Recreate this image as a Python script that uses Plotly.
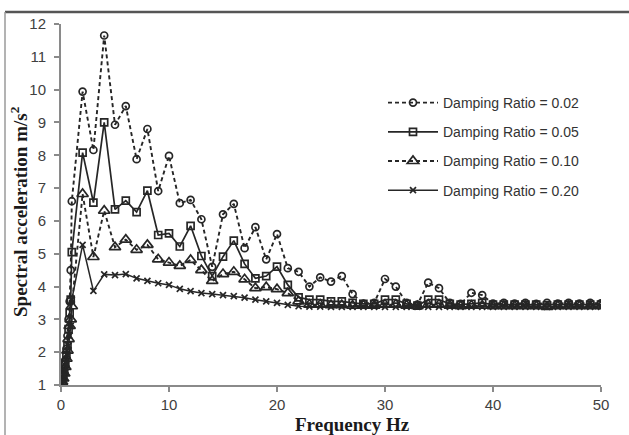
import plotly.graph_objects as go

freq = [0.1, 0.2, 0.3, 0.4, 0.5, 0.6, 0.7, 0.8, 0.9] + list(range(1, 51))

sa_002 = [1.15, 1.3, 1.5, 1.75, 2.1, 2.5, 3.0, 3.55, 4.5,
          6.6, 9.94, 8.16, 11.65, 8.93, 9.5, 7.88, 8.8, 6.91, 7.98,
          6.54, 6.64, 6.05, 4.6, 6.2, 6.52, 5.17, 5.81, 4.83, 5.6,
          4.56, 4.45, 4.0, 4.28, 4.15, 4.32, 3.77, 3.48, 3.5, 4.23,
          4.0, 3.5, 3.45, 4.12, 3.95, 3.5, 3.47, 3.81, 3.74, 3.48,
          3.5, 3.48, 3.5, 3.47, 3.5, 3.48, 3.5, 3.48, 3.5, 3.49]

sa_005 = [1.1, 1.25, 1.4, 1.65, 1.9, 2.2, 2.7, 3.2, 3.6,
          5.05, 8.08, 6.56, 9.0, 6.35, 6.62, 6.27, 6.92, 5.57, 5.62,
          5.22, 5.85, 4.93, 4.32, 4.91, 5.4, 4.69, 4.25, 4.32, 4.61,
          4.05, 3.67, 3.6, 3.6, 3.55, 3.55, 3.5, 3.47, 3.47, 3.6,
          3.6, 3.47, 3.42, 3.6, 3.6, 3.47, 3.45, 3.47, 3.5, 3.45,
          3.45, 3.45, 3.45, 3.45, 3.43, 3.45, 3.45, 3.45, 3.45, 3.45]

sa_010 = [1.1, 1.2, 1.35, 1.55, 1.8, 2.05, 2.4, 2.8, 3.0,
          3.4, 6.82, 4.9, 6.31, 5.2, 5.43, 5.12, 5.27, 4.83, 4.73,
          4.63, 4.81, 4.5, 4.17, 4.38, 4.45, 4.22, 3.95, 3.98, 3.92,
          3.8, 3.55, 3.45, 3.45, 3.43, 3.43, 3.42, 3.42, 3.42, 3.45,
          3.45, 3.42, 3.4, 3.45, 3.45, 3.42, 3.4, 3.42, 3.42, 3.4,
          3.4, 3.4, 3.4, 3.4, 3.38, 3.4, 3.4, 3.4, 3.4, 3.4]

sa_020 = [1.05, 1.15, 1.3, 1.45, 1.65, 1.9, 2.2, 2.5, 2.8,
          3.6, 5.27, 3.87, 4.37, 4.35, 4.38, 4.25, 4.17, 4.1, 4.05,
          3.93, 3.86, 3.8, 3.77, 3.74, 3.71, 3.66, 3.6, 3.55, 3.5,
          3.44, 3.4, 3.39, 3.39, 3.38, 3.38, 3.38, 3.38, 3.38, 3.38,
          3.38, 3.38, 3.38, 3.38, 3.38, 3.38, 3.38, 3.38, 3.38, 3.38,
          3.38, 3.38, 3.38, 3.38, 3.38, 3.38, 3.38, 3.38, 3.38, 3.38]

names = ["Damping Ratio = 0.02", "Damping Ratio = 0.05",
         "Damping Ratio = 0.10", "Damping Ratio = 0.20"]

x_ticks = [0, 10, 20, 30, 40, 50]
y_ticks = list(range(1, 13))

ink = "#262626"
fig = go.Figure()
series = [
    (sa_002, "dash", "circle-open", 7, 1.9),
    (sa_005, "solid", "square-open", 7, 1.7),
    (sa_010, "dash", "triangle-up-open", 10, 1.9),
    (sa_020, "solid", "x-thin-open", 6, 1.5),
]
for i, ((vals, dash, sym, size, lw), nm) in enumerate(zip(series, names)):
    fig.add_trace(go.Scatter(
        x=freq, y=vals, name=nm, mode="lines+markers", legendgroup=f"g{i}",
        line=dict(color=ink, width=lw, dash="4px,3px" if dash == "dash" else "solid"),
        marker=dict(symbol=sym, size=size, color=ink, line=dict(color=ink, width=1.7)),
    ))

fig.update_layout(
    width=629, height=435,
    margin=dict(l=61, r=28, t=24, b=50),
    paper_bgcolor="white", plot_bgcolor="white",
    showlegend=True,
    legend=dict(x=(383 - 61) / 540, y=(385 - 87) / 361, xanchor="left", yanchor="top",
                bgcolor="rgba(0,0,0,0)", itemwidth=50, tracegroupgap=8,
                font=dict(family="Liberation Sans, Arial", size=14, color="#333333")),
    font=dict(family="Liberation Sans, Arial", size=15, color="#404040"),
    xaxis=dict(range=[0, 50], tickvals=x_ticks, showgrid=False, zeroline=False,
               showline=True, linecolor="#8a8a8a", linewidth=2,
               ticks="outside", ticklen=5, tickcolor="#8a8a8a", tickwidth=1.5,
               tickfont=dict(size=15, color="#404040")),
    yaxis=dict(range=[1, 12], tickvals=y_ticks, showgrid=False, zeroline=False,
               showline=True, linecolor="#8a8a8a", linewidth=2,
               ticks="outside", ticklen=5, tickcolor="#8a8a8a", tickwidth=1.5,
               ticklabelstandoff=5,
               tickfont=dict(size=15, color="#404040")),
    annotations=[
        dict(text="<b>Frequency Hz</b>", xref="paper", yref="paper",
             x=(352 - 61) / 540, y=(385 - 424) / 361, xanchor="center", yanchor="middle",
             showarrow=False, font=dict(family="Liberation Serif, Times New Roman", size=19, color="#1a1a1a")),
        dict(text="<b>Spectral acceleration m/s<sup>2</sup></b>", xref="paper", yref="paper",
             x=(19 - 61) / 540, y=(385 - 212) / 361, xanchor="center", yanchor="middle",
             textangle=-90, showarrow=False,
             font=dict(family="Liberation Serif, Times New Roman", size=19, color="#1a1a1a")),
    ],
    shapes=[
        dict(type="line", xref="paper", yref="paper",
             x0=(5 - 61) / 540, x1=(640 - 61) / 540,
             y0=1 + (24 - 12) / 361, y1=1 + (24 - 12) / 361,
             line=dict(color="#555555", width=2.5)),
        dict(type="line", xref="paper", yref="paper",
             x0=(5 - 61) / 540, x1=(5 - 61) / 540,
             y0=1 + (24 - 12) / 361, y1=(385 - 450) / 361,
             line=dict(color="#9a9a9a", width=1.5)),
    ],
)

fig.write_html("out.html")
